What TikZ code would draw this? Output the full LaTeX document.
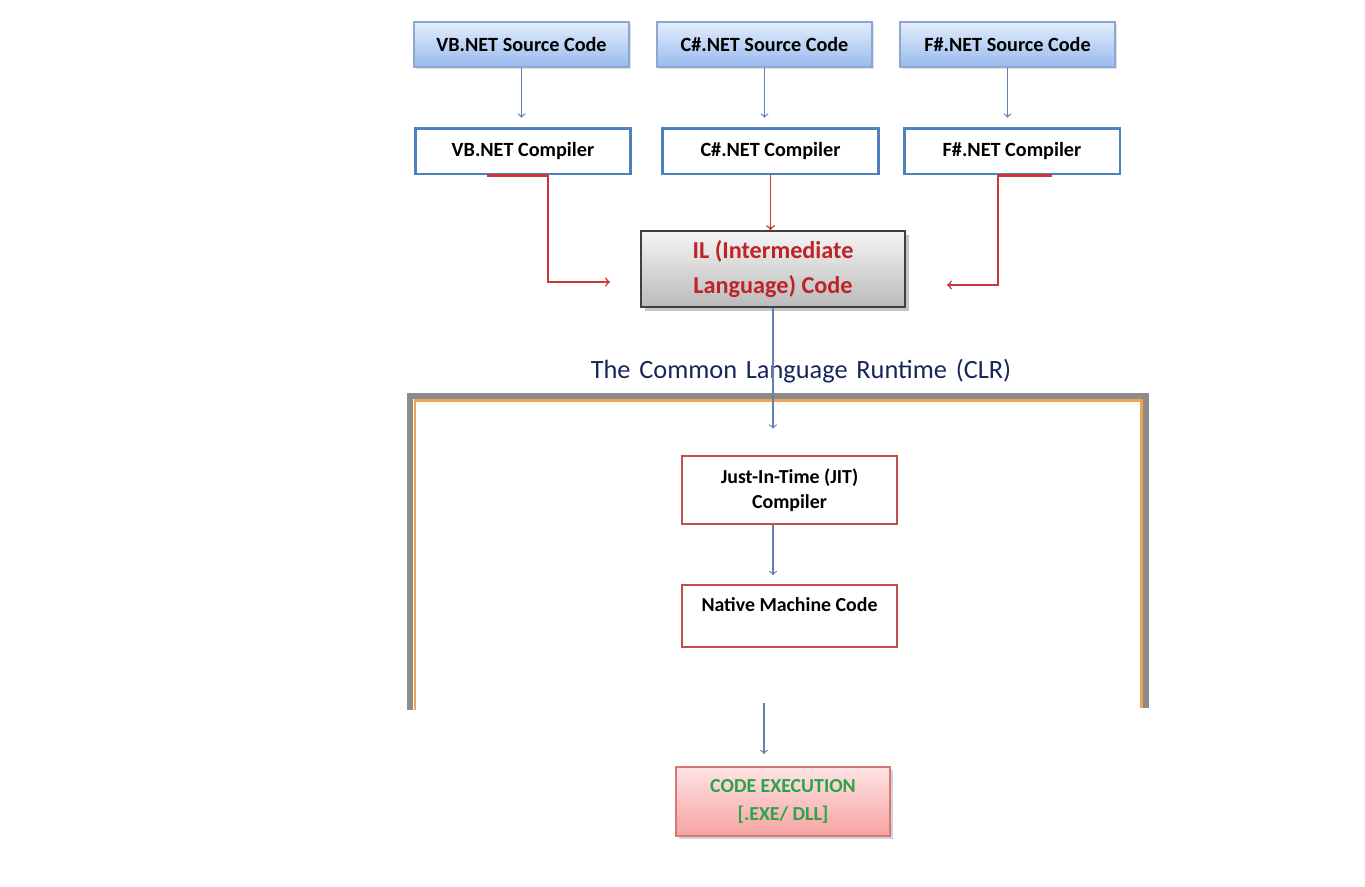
\documentclass[tikz,border=0pt]{standalone}
\usepackage{fontspec}
\setmainfont{Carlito}
\usetikzlibrary{shadows}

\definecolor{srctop}{RGB}{228,237,252}
\definecolor{srcbot}{RGB}{152,186,238}
\definecolor{srcline}{RGB}{140,168,208}
\definecolor{cmpline}{RGB}{79,129,189}
\definecolor{arrblue}{RGB}{96,128,178}
\definecolor{arrred}{RGB}{205,55,55}
\definecolor{iltext}{RGB}{190,35,40}
\definecolor{navy}{RGB}{22,38,92}
\definecolor{frgray}{RGB}{140,140,140}
\definecolor{frorange}{RGB}{242,164,84}
\definecolor{jitline}{RGB}{192,80,77}
\definecolor{extop}{RGB}{255,228,228}
\definecolor{exbot}{RGB}{246,162,162}
\definecolor{exline}{RGB}{214,120,120}
\definecolor{extext}{RGB}{40,165,75}

\begin{document}
\begin{tikzpicture}[x=0.02cm,y=-0.02cm]

\tikzstyle src=[draw=srcline, line width=0.8pt, top color=srctop, bottom color=srcbot, minimum width=4.3cm, minimum height=0.9cm, font=\fontsize{11.5}{13}\selectfont\bfseries, drop shadow={opacity=.25, shadow xshift=1pt, shadow yshift=-1pt}]
\tikzstyle cmp=[draw=cmpline, line width=1.7pt, fill=white, minimum width=4.32cm, minimum height=0.92cm, font=\fontsize{11.5}{13}\selectfont\bfseries]
\tikzstyle il=[draw=black!75, line width=1pt, top color=white!96!black, bottom color=black!27, minimum width=5.28cm, minimum height=1.52cm, align=center, text=iltext, font=\fontsize{13.8}{20}\selectfont\bfseries, drop shadow={opacity=.45, shadow xshift=2pt, shadow yshift=-2pt}]
\tikzstyle clr=[draw=jitline, line width=1.2pt, fill=white, minimum width=4.3cm, align=center, font=\fontsize{11.3}{14.5}\selectfont\bfseries]
\tikzstyle exec=[draw=exline, line width=0.8pt, top color=extop, bottom color=exbot, minimum width=4.28cm, minimum height=1.38cm, align=center, text=extext, font=\fontsize{11.3}{16}\selectfont\bfseries, drop shadow={opacity=.35, shadow xshift=1.5pt, shadow yshift=-1.5pt}]
\tikzstyle bluearrow=[draw=arrblue, line width=0.7pt, ->]
\tikzstyle redarrow=[draw=arrred, line width=0.9pt, ->]

\useasboundingbox (0,0) rectangle (1365,886);

% CLR frame
\draw [frgray, line width=3.4pt] (410,710) -- (410,396) -- (1146,396) -- (1146,708);
\draw [frorange, line width=1.7pt] (415,710) -- (415,400.5) -- (1141,400.5) -- (1141,708);
\node (title) at (801,371) [text=navy, font=\fontsize{15}{16}\selectfont] {The\hspace{5pt}Common\hspace{5pt}Language\hspace{5pt}Runtime\hspace{5pt}(CLR)};

\node (vbs) [src] at (521.5,44.5) {VB.NET Source Code};
\node (css) [src] at (764.5,44.5) {C\#.NET Source Code};
\node (fss) [src] at (1007.5,44.5) {F\#.NET Source Code};

\node (vbc) [cmp] at (523,151) {VB.NET Compiler};
\node (csc) [cmp] at (770.5,151) {C\#.NET Compiler};
\node (fsc) [cmp] at (1012,151) {F\#.NET Compiler};

\node (il) [il] at (773,269) {IL (Intermediate\\Language) Code};

\node (jit) [clr, minimum height=1.36cm] at (789.5,490) {Just-In-Time (JIT)\\Compiler};
\node (nat) [clr, minimum height=1.24cm] at (789.5,616) {Native Machine Code\\[-6pt]\strut};

\node (exe) [exec] at (783,801.5) {CODE EXECUTION\\{[.EXE/ DLL]}};

\coordinate (vbin) at (610,282);
\coordinate (fsin) at (947,285);
\coordinate (exin) at (764,703);

\foreach \s/\c in {vbs/vbc,css/csc,fss/fsc}
{
\draw [bluearrow, shorten >=5pt] (\s.south) -- (\s.south |- \c.north);
}

% red stubs on the compiler edges
\draw [arrred, line width=1.7pt] (vbc.south) ++(-36,0) -- ++(61,0);
\draw [arrred, line width=1.7pt] (fsc.south) ++(40,0) -- ++(-54,0);

\draw [redarrow] (vbc.south) ++(25,0) |- (vbin);
\draw [redarrow] (csc.south) -- (csc.south |- il.north);
\draw [redarrow] (fsc.south) ++(-14,0) |- (fsin);

\draw [bluearrow, shorten >=15pt] (il.south) -- (il.south |- jit.north);
\draw [bluearrow, shorten >=5pt] (jit.south -| il) -- (nat.north -| il);
\draw [bluearrow, shorten >=7pt] (exin) -- (exin |- exe.north);

\end{tikzpicture}
\end{document}
